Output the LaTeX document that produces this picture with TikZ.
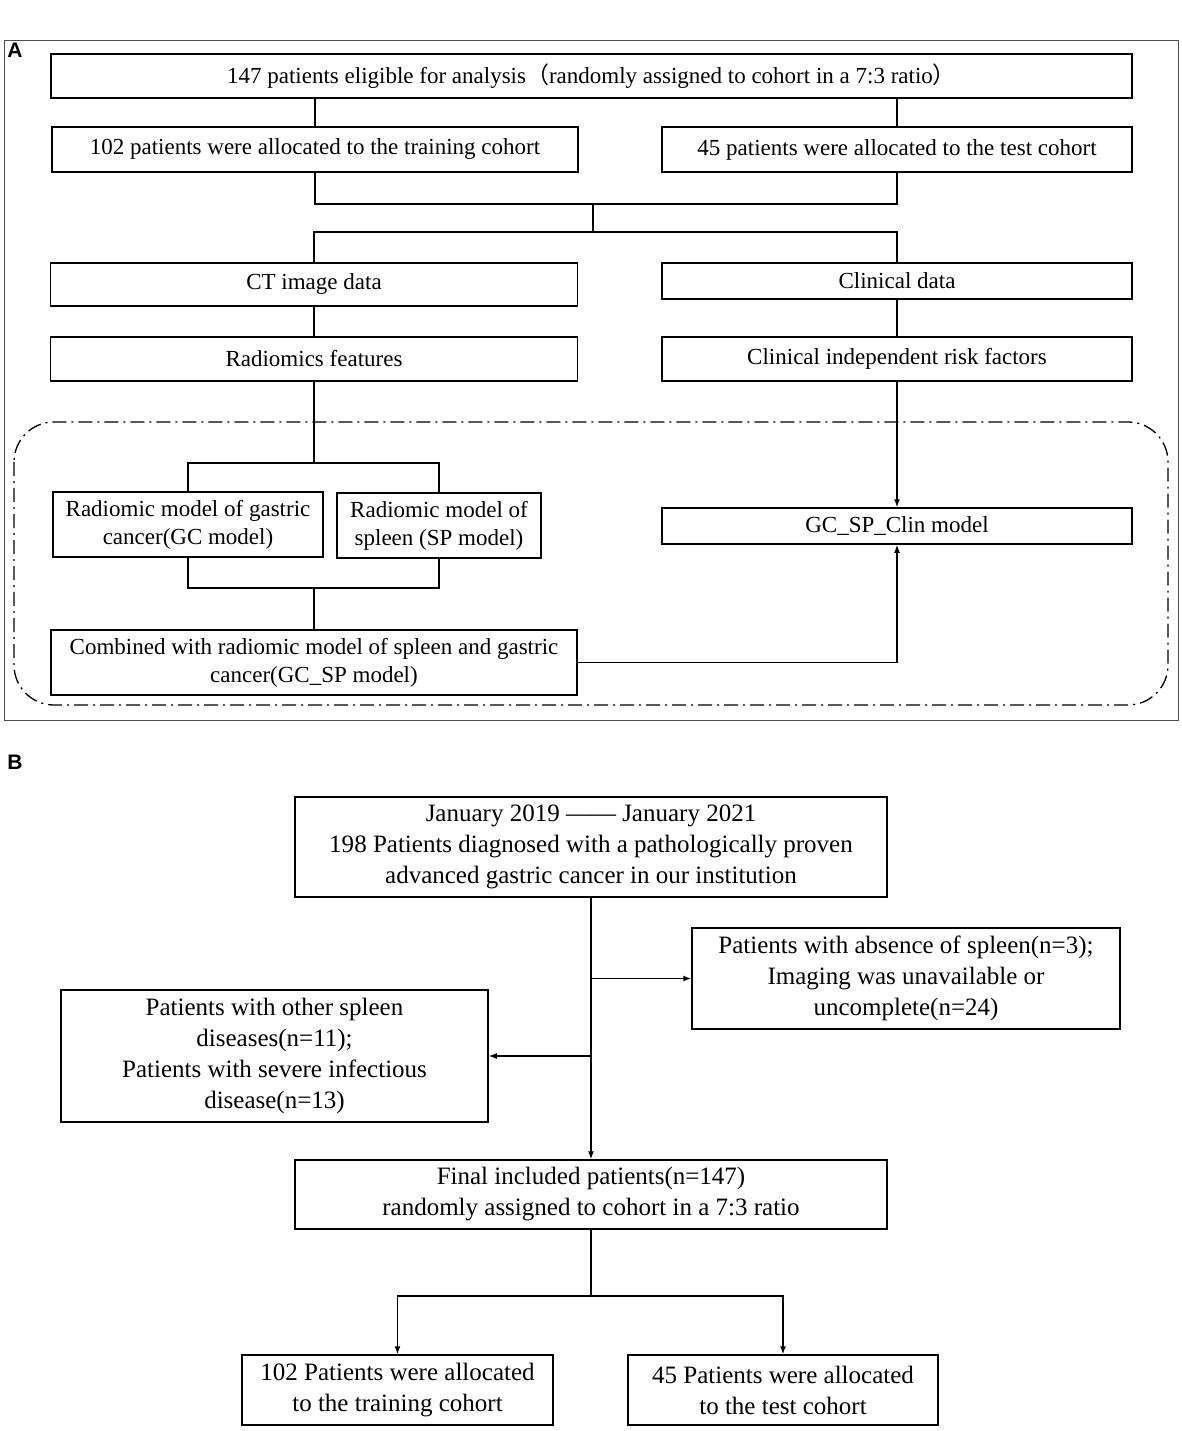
\documentclass[tikz,border=0pt]{standalone}
\usepackage{fontspec}
\setmainfont{Liberation Serif}
\newfontfamily\cjk{Noto Sans CJK SC}
\newfontfamily\labfont{Liberation Sans}
\usetikzlibrary{arrows.meta}
\begin{document}
\begin{tikzpicture}[x=1pt,y=-1pt,
  box/.style={draw, line width=1.5pt, align=center, inner sep=0pt, font=\fontsize{23}{28}\selectfont},
  boxb/.style={draw, line width=1.5pt, align=center, inner sep=0pt, font=\fontsize{25}{31}\selectfont},
  conn/.style={line width=1.3pt},
  arr/.style={line width=1.3pt, -{Latex[length=8pt,width=6pt]}},
  panel/.style={font=\labfont\bfseries\fontsize{21}{24}\selectfont}]
\useasboundingbox (0,0) rectangle (1182,1431);
% Panel A
\node[panel] (labA) at (15,50) {A};
\draw[line width=1pt, black!70] (4,41) rectangle (1178,720);
\draw[line width=1.3pt, dash pattern=on 14pt off 5pt on 2pt off 5pt, rounded corners=40pt] (14,422) rectangle (1168,705);

\node[box, minimum width=1081pt, minimum height=44pt] (top) at (591.5,76)
  {147 patients eligible for analysis{\cjk （}randomly assigned to cohort in a 7:3 ratio{\cjk ）}};
\node[box, minimum width=526pt, minimum height=45pt] (train) at (315,149.5) {102 patients were allocated to the training cohort};
\node[box, minimum width=470pt, minimum height=45pt] (test) at (897,149.5) {45 patients were allocated to the test cohort};
\node[box, minimum width=527pt, minimum height=43pt] (ct) at (314,284.5) {CT image data};
\node[box, minimum width=470pt, minimum height=36pt] (clin) at (897,281) {Clinical data};
\node[box, minimum width=527pt, minimum height=44pt] (rad) at (314,359) {Radiomics features};
\node[box, minimum width=470pt, minimum height=44pt] (cirf) at (897,359) {Clinical independent risk factors};
\node[box, minimum width=270pt, minimum height=65pt] (gc) at (188,524.5) {Radiomic model of gastric\\cancer(GC model)};
\node[box, minimum width=204pt, minimum height=65pt] (sp) at (439,525.5) {Radiomic model of\\spleen (SP model)};
\node[box, minimum width=526pt, minimum height=65pt] (comb) at (314,662.5) {Combined with radiomic model of spleen and gastric\\cancer(GC\_SP model)};
\node[box, minimum width=470pt, minimum height=36pt] (gcspclin) at (897,526) {GC\_SP\_Clin model};

\coordinate (j1) at (593,204);
\coordinate (j2) at (593,232);
\coordinate (j3) at (314,463);
\coordinate (j4) at (314,588);

\draw[conn] (top.south -| train.north) -- (train.north);
\draw[conn] (top.south -| test.north) -- (test.north);
\draw[conn] (train.south) |- (j1) -| (test.south);
\draw[conn] (j1) -- (j2);
\draw[conn] (ct.north) |- (j2) -| (clin.north);
\draw[conn] (ct.south) -- (rad.north);
\draw[conn] (clin.south) -- (cirf.north);
\draw[conn] (rad.south) -- (j3);
\draw[conn] (gc.north) |- (j3) -| (sp.north);
\draw[conn] (gc.south) |- (j4) -| (sp.south);
\draw[conn] (j4) -- (comb.north);
\draw[arr] (comb.east) -| (gcspclin.south);
\draw[arr] (cirf.south) -- (gcspclin.north);

% Panel B
\node[panel] (labB) at (15,762) {B};
\node[boxb, minimum width=592pt, minimum height=100pt] (btop) at (591,847)
  {January 2019 —— January 2021\\198 Patients diagnosed with a pathologically proven\\advanced gastric cancer in our institution};
\node[boxb, minimum width=428pt, minimum height=101pt] (rex) at (906,978.5)
  {Patients with absence of spleen(n=3);\\Imaging was unavailable or\\uncomplete(n=24)};
\node[boxb, minimum width=427pt, minimum height=132pt] (lex) at (274.5,1056)
  {Patients with other spleen\\diseases(n=11);\\Patients with severe infectious\\disease(n=13)};
\node[boxb, minimum width=592pt, minimum height=69pt] (final) at (591,1194.5)
  {Final included patients(n=147)\\randomly assigned to cohort in a 7:3 ratio};
\node[boxb, minimum width=311pt, minimum height=70pt] (bl) at (397.5,1390)
  {102 Patients were allocated\\to the training cohort};
\node[boxb, minimum width=310pt, minimum height=70pt] (br) at (783,1390)
  {45 Patients were allocated\\to the test cohort};
\coordinate (j5) at (591,1296);

\draw[arr] (btop.south) -- (final.north);
\draw[arr] (btop.south |- rex.west) -- (rex.west);
\draw[arr] (btop.south |- lex.east) -- (lex.east);
\draw[conn] (final.south) -- (j5);
\draw[arr] (j5) -| (bl.north);
\draw[arr] (j5) -| (br.north);
\end{tikzpicture}
\end{document}
